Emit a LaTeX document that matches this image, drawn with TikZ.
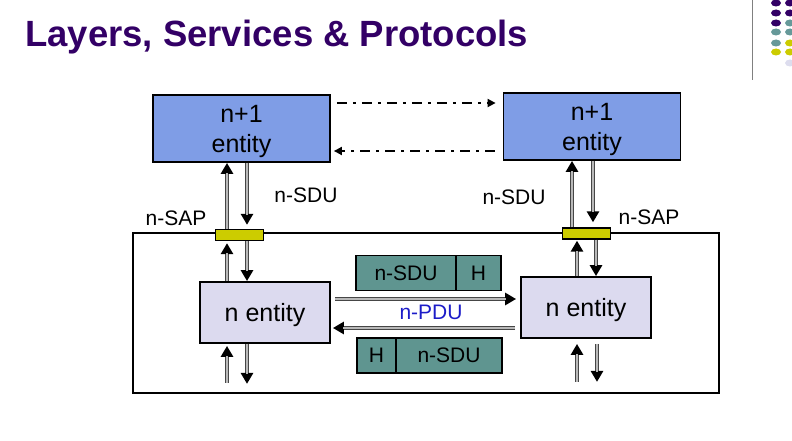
\documentclass[tikz,border=0pt]{standalone}
\usepackage{fontspec}
\setmainfont{Liberation Sans}
\usetikzlibrary{arrows.meta}

\definecolor{titlepurple}{HTML}{330066}
\definecolor{boxblue}{HTML}{7F9DE6}
\definecolor{boxlav}{HTML}{DCDAEF}
\definecolor{sapyellow}{HTML}{CCCC00}
\definecolor{pktteal}{HTML}{5F9590}
\definecolor{pdublue}{HTML}{1C1CC8}
\definecolor{dotteal}{HTML}{669999}
\definecolor{dotlav}{HTML}{DDDDEE}

\tikzset{
	entity/.style={
		rectangle,
		draw=black, line width=1.8pt,
		fill=boxblue,
		minimum width=177pt, minimum height=67pt,
		inner sep=0pt,
		text depth=0pt,
		align=center,
		font=\fontsize{25}{30}\selectfont,
	},
	nentity/.style={
		entity,
		fill=boxlav,
		minimum width=130pt, minimum height=61pt,
	},
	sap/.style={
		rectangle,
		draw=black, line width=1.4pt,
		fill=sapyellow,
		minimum width=48pt, minimum height=11pt,
		inner sep=0pt,
	},
	pkt/.style={
		rectangle,
		draw=black, line width=1.2pt,
		fill=pktteal,
		minimum height=35pt,
		inner sep=0pt,
		font=\fontsize{21}{25}\selectfont,
	},
	lbl/.style={inner sep=0pt, font=\fontsize{21}{25}\selectfont},
	gline/.style={
		draw=gray!55!black, line width=4.4pt,
		-{Triangle[length=11pt,width=12pt,color=black,fill=black]},
		shorten >=#1,
		postaction={draw=gray!55, line width=2pt, -, shorten >=#1+10pt},
	},
	gline/.default=0pt,
	dashdot/.style={
		line width=1.8pt,
		dash pattern=on 10pt off 6pt on 3pt off 6pt,
		-{Triangle[length=8pt,width=8pt]},
	},
}

\begin{document}
\begin{tikzpicture}[x=1pt, y=1pt]
	\useasboundingbox (0,0) rectangle (792,440);
	
	% title and slide decoration
	\node[anchor=base west, inner sep=0pt, text=titlepurple, font=\bfseries\fontsize{36.5}{40}\selectfont](title) at (25,393){Layers, Services \& Protocols};
	\draw[gray, line width=0.8pt] (752,440) -- (752,360);
	\foreach \y/\ca/\cb in {437/titlepurple/titlepurple, 427/titlepurple/titlepurple, 417/titlepurple/dotteal, 408/dotteal/dotteal, 397/dotteal/sapyellow, 388/sapyellow/sapyellow}{
		\fill[\ca] (776,\y) ellipse (5 and 3.5);
		\fill[\cb] (790,\y) ellipse (5 and 3.5);
	}
	\fill[dotlav] (790,377) ellipse (5 and 3.5);
	
	% n+1 layer
	\node[entity](U1) at (241.5,311.5){n+1\\entity};
	\node[entity](U2) at (592,313.5){n+1\\entity};
	
	\draw[dashdot, shorten <=6pt, shorten >=7pt] ([yshift=25.5pt]U1.east) -- ([yshift=25.5pt]U1.east -| U2.west);
	\draw[dashdot, shorten <=8pt, shorten >=3pt] ([yshift=-22.5pt]U1.east -| U2.west) -- ([yshift=-22.5pt]U1.east);
	
	% n layer
	\node[draw, line width=1.8pt, minimum width=586pt, minimum height=160pt](LAYER) at (426,127){};
	
	\node[sap](S1) at (239.5,205){};
	\node[sap](S2) at (586.5,206.5){};
	
	\node[lbl](SAP1) at (176,222){n-SAP};
	\node[lbl](SDU1) at (306,245){n-SDU};
	\node[lbl](SDU2) at (514,243){n-SDU};
	\node[lbl](SAP2) at (649,223){n-SAP};
	
	\node[nentity](N1) at (265,127.5){n entity};
	\node[nentity](N2) at (586,132.5){n entity};
	
	\draw[gline] ([xshift=-12.5pt]S1.north) -- ([xshift=-12.5pt]S1.north |- U1.south);
	\draw[gline=4pt] ([xshift=7.5pt]S1.north |- U1.south) -- ([xshift=7.5pt]S1.north);
	\draw[gline=2pt] ([xshift=-38pt]N1.north) -- ([xshift=-38pt]N1.north |- S1.south);
	\draw[gline] ([xshift=-18pt]N1.north |- S1.south) -- ([xshift=-18pt]N1.north);
	
	\draw[gline] ([xshift=-14.5pt]S2.north) -- ([xshift=-14.5pt]S2.north |- U2.south);
	\draw[gline=5pt] ([xshift=6.5pt]S2.north |- U2.south) -- ([xshift=6.5pt]S2.north);
	\draw[gline=1pt] ([xshift=-9pt]N2.north) -- ([xshift=-9pt]N2.north |- S2.south);
	\draw[gline] ([xshift=10pt]N2.north |- S2.south) -- ([xshift=10pt]N2.north);
	
	% to the layer below
	\coordinate (L1a) at ([xshift=-38pt,yshift=-39pt]N1.south);
	\coordinate (L1b) at ([xshift=-18pt,yshift=-40pt]N1.south);
	\coordinate (R1a) at ([xshift=-9pt,yshift=-43pt]N2.south);
	\coordinate (R1b) at ([xshift=11pt,yshift=-43pt]N2.south);
	\draw[gline=2pt] (L1a) -- (L1a |- N1.south);
	\draw[gline] (L1b |- N1.south) -- (L1b);
	\draw[gline=5pt] (R1a) -- (R1a |- N2.south);
	\draw[gline, shorten <=5pt] (R1b |- N2.south) -- (R1b);
	
	% peer protocol
	\draw[gline=4pt, shorten <=4pt] ([yshift=13.5pt]N1.east) -- ([yshift=13.5pt]N1.east -| N2.west);
	\draw[gline=2pt, shorten <=5pt] ([yshift=-15.5pt]N1.east -| N2.west) -- ([yshift=-15.5pt]N1.east);
	\node[lbl, text=pdublue](PDU) at (431,128){n-PDU};
	
	\node[pkt, minimum width=100pt](P1S) at (406,167){n-SDU};
	\node[pkt, minimum width=45pt, right of=P1S, node distance=72.5pt](P1H){H};
	\node[pkt, minimum width=39pt](P2H) at (376.5,84.5){H};
	\node[pkt, minimum width=106pt, right of=P2H, node distance=72.5pt](P2S){n-SDU};
\end{tikzpicture}
\end{document}
